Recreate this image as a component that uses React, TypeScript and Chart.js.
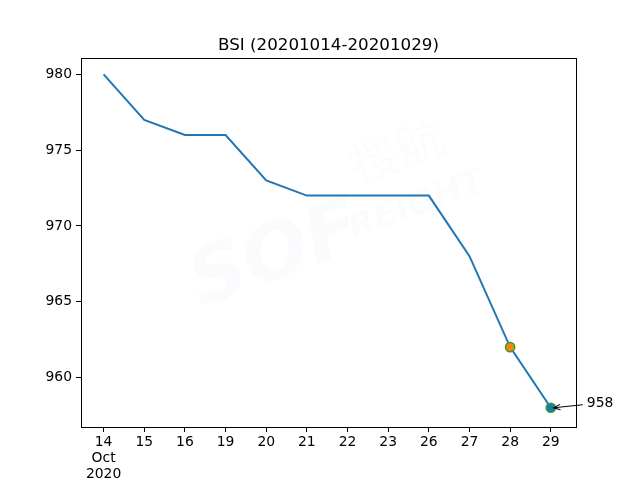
import React, { useEffect, useRef } from "react";
import { Chart, registerables } from "chart.js";

Chart.register(...registerables);

const categories: (string | string[])[] = [["14", "Oct", "2020"], "15", "16", "19", "20", "21", "22", "23", "26", "27", "28", "29"];
const values: number[] = [980, 977, 976, 976, 973, 972, 972, 972, 972, 968, 962, 958];
const yTicks: number[] = [960, 965, 970, 975, 980];
const highlightIndex: number[] = [10, 11];
const highlightFill: string[] = ["#ff7f0e", "#1f77b4"];
const titleText = "BSI (20201014-20201029)";
const annotationText = "958";

const FONT = "'DejaVu Sans', sans-serif";

const overlayPlugin = {
  id: "overlay",
  beforeDatasetsDraw(chart: any) {
    const { ctx, chartArea } = chart;
    ctx.save();
    ctx.beginPath();
    ctx.rect(chartArea.left, chartArea.top, chartArea.right - chartArea.left, chartArea.bottom - chartArea.top);
    ctx.clip();
    // faint watermark
    ctx.translate(335, 215);
    ctx.rotate(-0.35);
    ctx.fillStyle = "rgba(215,228,240,0.15)";
    ctx.font = "italic bold 78px 'DejaVu Sans', sans-serif";
    ctx.textAlign = "center";
    ctx.textBaseline = "middle";
    ctx.fillText("SOF", -70, 20);
    ctx.fillStyle = "rgba(225,228,232,0.12)";
    ctx.font = "48px 'Noto Sans CJK SC', sans-serif";
    ctx.fillText("搜航", 80, -40);
    ctx.font = "italic bold 34px 'DejaVu Sans', sans-serif";
    ctx.fillText("REIGHT", 80, 20);
    ctx.restore();
  },
  afterDraw(chart: any) {
    const { ctx, chartArea } = chart;
    ctx.save();
    // frame
    ctx.strokeStyle = "#000";
    ctx.lineWidth = 1;
    ctx.strokeRect(Math.round(chartArea.left) + 0.5, Math.round(chartArea.top) + 0.5,
      Math.round(chartArea.right - chartArea.left), Math.round(chartArea.bottom - chartArea.top));
    // title
    ctx.fillStyle = "#000";
    ctx.font = "16.7px " + FONT;
    ctx.textAlign = "center";
    ctx.textBaseline = "alphabetic";
    ctx.fillText(titleText, (chartArea.left + chartArea.right) / 2, 50);
    // annotation
    const meta = chart.getDatasetMeta(0);
    const last = meta.data[values.length - 1];
    const px = last.x;
    const py = last.y;
    const tx = px + 36;
    const ty = py - 4;
    ctx.font = "13.9px " + FONT;
    ctx.textAlign = "left";
    ctx.textBaseline = "middle";
    ctx.fillText(annotationText, tx, ty);
    const sx = tx - 4;
    const sy = ty + 1;
    const ex = px + 3;
    const ey = py;
    ctx.strokeStyle = "#000";
    ctx.lineWidth = 1.1;
    ctx.beginPath();
    ctx.moveTo(sx, sy);
    ctx.lineTo(ex, ey);
    ctx.stroke();
    const ang = Math.atan2(ey - sy, ex - sx);
    const hl = 7;
    ctx.beginPath();
    ctx.moveTo(ex - hl * Math.cos(ang - 0.4), ey - hl * Math.sin(ang - 0.4));
    ctx.lineTo(ex, ey);
    ctx.lineTo(ex - hl * Math.cos(ang + 0.4), ey - hl * Math.sin(ang + 0.4));
    ctx.stroke();
    ctx.restore();
  },
};

export default function App() {
  const ref = useRef<HTMLCanvasElement>(null);
  useEffect(() => {
    document.body.style.margin = "0";
    const canvas = ref.current!;
    const chart = new Chart(canvas, {
      type: "line",
      data: {
        datasets: [
          {
            data: values.map((v, i) => ({ x: i, y: v })),
            borderColor: "#1f77b4",
            borderWidth: 2,
            tension: 0,
            fill: false,
            pointRadius: (c: any) => (highlightIndex.includes(c.dataIndex) ? 4.6 : 0),
            pointHoverRadius: 0,
            pointBackgroundColor: (c: any) => {
              const k = highlightIndex.indexOf(c.dataIndex);
              return k >= 0 ? highlightFill[k] : "#1f77b4";
            },
            pointBorderColor: "#2ca02c",
            pointBorderWidth: 1.5,
          },
        ],
      },
      options: {
        responsive: false,
        animation: false,
        events: [],
        layout: { padding: { top: 58, right: 64, left: 0, bottom: 0 } },
        plugins: { legend: { display: false }, title: { display: false }, tooltip: { enabled: false } },
        scales: {
          x: {
            type: "linear",
            min: -0.556,
            max: 11.62,
            border: { display: false },
            grid: { drawOnChartArea: false, drawTicks: true, tickLength: 5, color: "#000", lineWidth: 1 },
            ticks: {
              color: "#000",
              font: { family: FONT, size: 13.9, lineHeight: 1.12 },
              padding: 3,
              maxRotation: 0,
              autoSkip: false,
              callback: (v: any) => categories[v as number] as any,
            },
            afterBuildTicks: (s: any) => { s.ticks = categories.map((_, i) => ({ value: i })); },
            afterFit: (s: any) => { s.height = 53; },
          },
          y: {
            type: "linear",
            min: 956.73,
            max: 981.08,
            border: { display: false },
            grid: { drawOnChartArea: false, drawTicks: true, tickLength: 5, color: "#000", lineWidth: 1 },
            ticks: { color: "#000", font: { family: FONT, size: 13.9 }, padding: 4 },
            afterBuildTicks: (s: any) => { s.ticks = yTicks.map((v) => ({ value: v })); },
            afterFit: (s: any) => { s.width = 81; },
          },
        },
      },
      plugins: [overlayPlugin],
    });
    return () => chart.destroy();
  }, []);
  return <canvas ref={ref} width={640} height={480} style={{ display: "block", width: 640, height: 480 }} />;
}
